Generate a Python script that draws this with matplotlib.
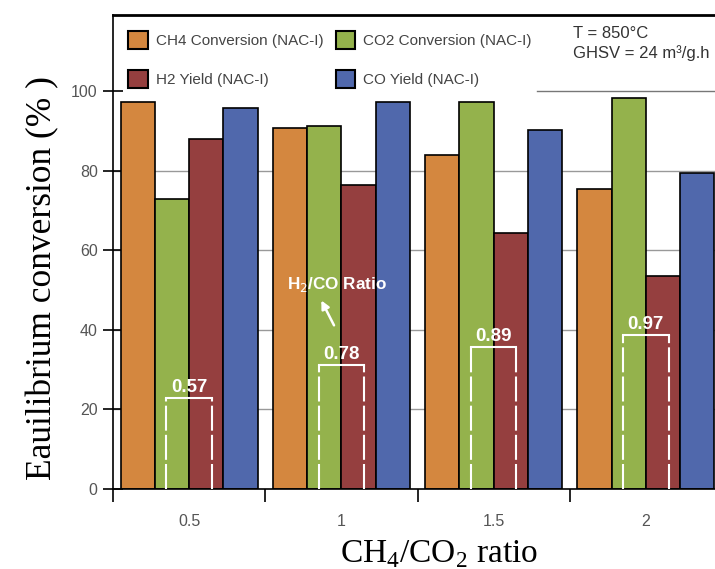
import matplotlib
matplotlib.use('Agg')
import matplotlib.pyplot as plt
from matplotlib.patches import Patch
import numpy as np

# data
ratios = ['0.5', '1', '1.5', '2']
ch4_conv = [97.3, 90.8, 83.9, 75.3]
co2_conv = [72.8, 91.3, 97.3, 98.2]
h2_yield = [87.9, 76.4, 64.4, 53.6]
co_yield = [95.8, 97.3, 90.2, 79.3]
h2_co = [0.57, 0.78, 0.89, 0.97]

series = [ch4_conv, co2_conv, h2_yield, co_yield]
names = ['CH4 Conversion (NAC-I)', 'CO2 Conversion (NAC-I)',
         'H2 Yield (NAC-I)', 'CO Yield (NAC-I)']
colors = ['#d4873f', '#94b24c', '#953f3f', '#5068ac']

plt.rcParams['font.family'] = ['Liberation Sans', 'DejaVu Sans']
plt.rcParams['mathtext.fontset'] = 'custom'
plt.rcParams['mathtext.rm'] = 'Liberation Serif'

fig = plt.figure(figsize=(7.15, 5.69), dpi=100)
ax = fig.add_axes([113 / 715, 1 - 489 / 569, 609 / 715, 474 / 569])

x = np.arange(len(ratios))
w = 0.225
for i, (vals, c) in enumerate(zip(series, colors)):
    ax.bar(x + (i - 1.5) * w, vals, w, color=c, edgecolor='black',
           linewidth=1.2, zorder=2)

# grid lines (the 100 one is partly hidden by the legend box)
for g in [20, 40, 60, 80]:
    ax.axhline(g, color='#999999', lw=1, zorder=0)
ax.axhline(100, xmin=0.697, color='#777777', lw=1, zorder=0)

# H2/CO ratio brackets
scale = 40
for xi, r in zip(x, h2_co):
    top = r * scale
    ax.plot([xi - 0.15, xi - 0.15], [0, top], color='white', lw=1.5,
            ls=(0, (12, 2)), zorder=3)
    ax.plot([xi + 0.15, xi + 0.15], [0, top], color='white', lw=1.5,
            ls=(0, (12, 2)), zorder=3)
    ax.plot([xi - 0.15, xi + 0.15], [top, top], color='white', lw=1.5, zorder=3)
    ax.text(xi, top + 0.5, f'{r:.2f}', color='white', fontweight='bold',
            fontsize=13.5, ha='center', va='bottom', zorder=4)

ax.text(0.97, 51.3, 'H$_2$/CO Ratio', color='white', fontweight='bold',
        fontsize=12.3, ha='center', va='center', zorder=4,
        math_fontfamily='dejavusans')
ax.annotate('', xy=(0.86, 48), xytext=(0.96, 40.5), zorder=4,
            arrowprops=dict(arrowstyle='-|>', color='white', lw=1.8,
                            mutation_scale=12))

ax.set_xlim(-0.5, 3.5)
ax.set_ylim(0, 119.1)

ax.set_yticks([0, 20, 40, 60, 80, 100])
ax.set_xticks([0.5, 1.5, 2.5, 3.5, -0.5])
ax.set_xticklabels([])
ax.set_xticks(x, minor=True)
ax.set_xticklabels(ratios, minor=True)
ax.tick_params(axis='x', which='major', direction='out', length=9, width=1.2)
ax.tick_params(axis='x', which='minor', length=0, pad=18, labelsize=11.5,
               labelcolor='#555555')
ax.tick_params(axis='y', direction='inout', length=14, width=1.2, pad=4,
               labelsize=11.5, labelcolor='#555555')

ax.spines['right'].set_visible(False)
ax.spines['top'].set_linewidth(2)
ax.spines['left'].set_linewidth(1.2)
ax.spines['bottom'].set_linewidth(1.2)

ax.set_ylabel('Eauilibrium conversion (% )', family='Liberation Serif',
              fontsize=25.5)
ax.yaxis.set_label_coords(-0.088, 0.445)
ax.set_xlabel('CH$_4$/CO$_2$ ratio', family='Liberation Serif', fontsize=24)
ax.xaxis.set_label_coords(0.535, -0.105)

handles = [Patch(facecolor=c, edgecolor='black', lw=1.5) for c in colors]
order = [0, 2, 1, 3]
ax.legend([handles[i] for i in order], [names[i] for i in order], ncol=2,
          loc='upper left', bbox_to_anchor=(0.025, 0.966), frameon=False,
          borderpad=0, borderaxespad=0, fontsize=11, handlelength=1.3,
          handleheight=1.4, handletextpad=0.5, labelspacing=1.4,
          columnspacing=0.8, labelcolor='#444444')

ax.text(0.755, 0.977, 'T = 850°C\nGHSV = 24 m³/g.h', transform=ax.transAxes,
        fontsize=12, color='#333333', va='top', ha='left', linespacing=1.3)

fig.savefig('out.png', dpi=100)
